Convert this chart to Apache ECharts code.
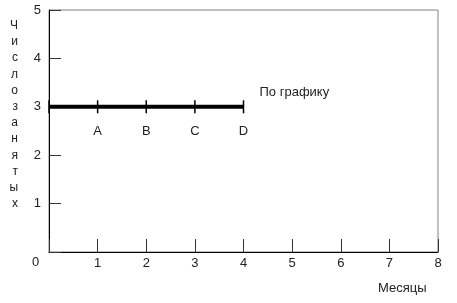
<!DOCTYPE html>
<html>
<head>
<meta charset="utf-8">
<script src="https://cdn.jsdelivr.net/npm/echarts@6/dist/echarts.min.js"></script>
<style>
  html, body { margin: 0; padding: 0; background: #fff; }
  #chart { width: 457px; height: 303px; }
</style>
</head>
<body>
<div id="chart"></div>
<script>
// data
var months = [0, 1, 2, 3, 4];
var employed = [3, 3, 3, 3, 3];
var pointNames = ['', 'A', 'B', 'C', 'D'];
var seriesName = 'По графику';
var xTitle = 'Месяцы';
var yTitle = 'Число занятых';

var font = 'Liberation Sans, Arial, sans-serif';
var chart = echarts.init(document.getElementById('chart'));

var points = months.map(function (m, i) {
    return { value: [m, employed[i]], label: { formatter: pointNames[i] } };
});

// one letter per line, two empty lines below lift the column above the middle
var yName = yTitle.replace(/ /g, '').split('').join('\n') + '\n \n ';

chart.setOption({
    animation: false,
    backgroundColor: '#fff',
    grid: {
        left: 49, right: 19, top: 10, bottom: 51,
        outerBoundsMode: 'none', containLabel: false,
        show: true, borderColor: '#808080', borderWidth: 1
    },
    xAxis: {
        type: 'value', min: 0, max: 8, interval: 1,
        axisLine: { lineStyle: { color: '#000' } },
        axisTick: { inside: true, length: 13, lineStyle: { color: '#333' } },
        axisLabel: {
            margin: 5, color: '#222', fontSize: 13, fontFamily: font,
            formatter: function (v) { return v === 0 ? '' : v; }
        },
        splitLine: { show: false }
    },
    yAxis: {
        type: 'value', min: 0, max: 5, interval: 1,
        name: yName,
        nameLocation: 'middle', nameRotate: 0, nameGap: 31,
        nameTextStyle: { color: '#222', fontSize: 12, fontFamily: font, lineHeight: 16.2 },
        axisLine: { show: true, lineStyle: { color: '#000' } },
        axisTick: { show: true, inside: true, length: 12, lineStyle: { color: '#333' } },
        axisLabel: {
            margin: 8, color: '#222', fontSize: 13, fontFamily: font,
            formatter: function (v) { return v === 0 ? '' : v; }
        },
        splitLine: { show: false }
    },
    series: [{
        name: seriesName,
        type: 'line',
        data: points,
        symbol: 'rect',
        symbolSize: [1.5, 13],
        showSymbol: true,
        itemStyle: { color: '#000' },
        lineStyle: { color: '#000', width: 4 },
        label: {
            show: true, position: 'bottom', distance: 12,
            color: '#222', fontSize: 13, fontFamily: font
        },
        endLabel: {
            show: true, formatter: '{a}', distance: 0, offset: [16, -14],
            color: '#222', fontSize: 13, fontFamily: font
        }
    }],
    graphic: [
        { type: 'text', left: 32, top: 256, style: { text: '0', fill: '#222', font: '13px ' + font } },
        { type: 'text', left: 378, top: 282, style: { text: xTitle, fill: '#222', font: '13px ' + font } }
    ]
});
</script>
</body>
</html>
